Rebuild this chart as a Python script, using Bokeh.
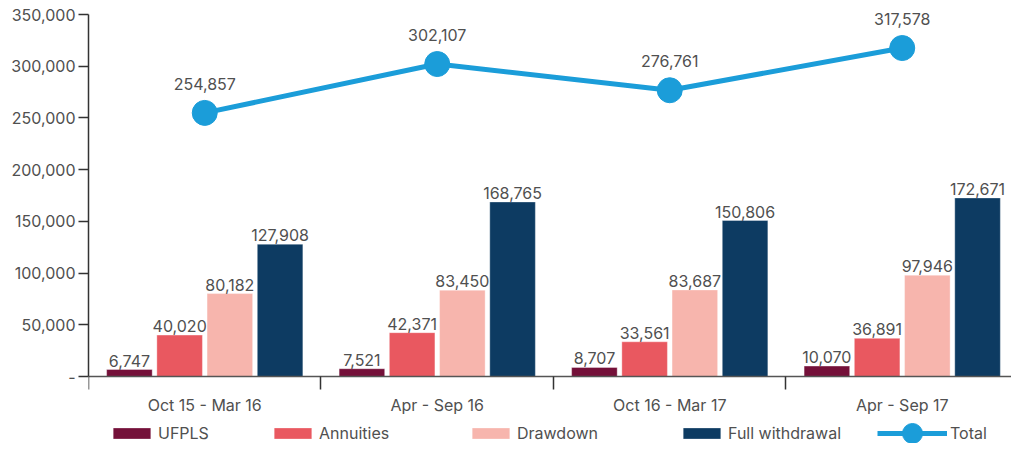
from bokeh.plotting import figure
from bokeh.models import (ColumnDataSource, FixedTicker, Legend, LegendItem, Range1d)
from bokeh.core.properties import value
from bokeh.embed import file_html
from bokeh.resources import INLINE

periods = ["Oct 15 - Mar 16", "Apr - Sep 16", "Oct 16 - Mar 17", "Apr - Sep 17"]
ufpls = [6747, 7521, 8707, 10070]
annuities = [40020, 42371, 33561, 36891]
drawdown = [80182, 83450, 83687, 97946]
full_withdrawal = [127908, 168765, 150806, 172671]
total = [254857, 302107, 276761, 317578]

series_names = ["UFPLS", "Annuities", "Drawdown", "Full withdrawal"]
series_values = [ufpls, annuities, drawdown, full_withdrawal]
series_colors = ["#741039", "#e95860", "#f7b5ad", "#0d3b62"]
total_color = "#1b9dd9"

y_ticks = [0, 50000, 100000, 150000, 200000, 250000, 300000, 350000]
y_tick_labels = ["-", "50,000", "100,000", "150,000", "200,000", "250,000", "300,000", "350,000"]

FONT = "Inter"
TXT = "#505050"

W, H = 1011, 443
TOP, ZERO_Y, LEFT = 14, 376, 88
y_max = 350000
px_per_unit = (ZERO_Y - TOP) / y_max
y_min = -(H - ZERO_Y) / px_per_unit
y_top = y_max + TOP / px_per_unit

p = figure(width=W, height=H, output_backend="svg", toolbar_location=None,
           x_range=Range1d(0, 3.97), y_range=Range1d(y_min, y_top),
           min_border_left=LEFT, min_border_right=0, min_border_top=0, min_border_bottom=0)
p.outline_line_color = None
p.xgrid.visible = False
p.ygrid.visible = False
p.background_fill_color = "white"
p.border_fill_color = "white"

centers = [i + 0.5 for i in range(len(periods))]
offsets = [-0.324, -0.108, 0.108, 0.324]
bar_w = 0.196

legend_items = []
for name, vals, col, off in zip(series_names, series_values, series_colors, offsets):
    src = ColumnDataSource(dict(x=[c + off for c in centers], top=vals,
                                lab=[f"{v:,}" for v in vals]))
    r = p.vbar(x="x", top="top", width=bar_w, bottom=0, source=src,
               fill_color=col, line_color="white", line_alpha=0.35, line_width=1)
    p.text(x="x", y="top", text="lab", source=src, text_align="center",
           text_baseline="bottom", y_offset=-3, text_font=value(FONT),
           text_font_size="16px", text_color=TXT)
    legend_items.append((name, r))

tsrc = ColumnDataSource(dict(x=centers, y=total, lab=[f"{v:,}" for v in total]))
lr = p.line(x="x", y="y", source=tsrc, line_color=total_color, line_width=5)
sr = p.scatter(x="x", y="y", source=tsrc, size=25, fill_color=total_color,
               line_color=total_color, marker="circle")
p.text(x="x", y="y", text="lab", source=tsrc, text_align="center",
       text_baseline="bottom", y_offset=-23, text_font=value(FONT),
       text_font_size="16px", text_color=TXT)

# y axis
ya = p.yaxis[0]
ya.ticker = FixedTicker(ticks=y_ticks)
ya.bounds = (0, y_max)
ya.major_label_overrides = {t: l for t, l in zip(y_ticks, y_tick_labels)}
ya.major_tick_out = 10
ya.major_tick_in = 0
ya.minor_tick_out = 0
ya.minor_tick_in = 0
ya.axis_line_color = "#333333"
ya.axis_line_width = 1.5
ya.major_tick_line_color = "#333333"
ya.major_tick_line_width = 1.5
ya.major_label_text_font = FONT
ya.major_label_text_font_size = "16px"
ya.major_label_text_color = TXT
ya.major_label_standoff = 3

# x axis at y = 0
xa = p.xaxis[0]
xa.fixed_location = 0
xa.ticker = FixedTicker(ticks=centers, minor_ticks=[0, 1, 2, 3, 4])
xa.major_label_overrides = {c: l for c, l in zip(centers, periods)}
xa.major_tick_out = 0
xa.major_tick_in = 0
xa.minor_tick_out = 13
xa.minor_tick_in = 0
xa.minor_tick_line_color = "#333333"
xa.minor_tick_line_width = 1.5
xa.axis_line_color = "#555555"
xa.axis_line_width = 1.5
xa.major_label_text_font = FONT
xa.major_label_text_font_size = "16px"
xa.major_label_text_color = TXT
xa.major_label_standoff = 5

# legends placed individually below the axis
leg_x = [20, 181, 379, 590, 789]
common = dict(orientation="horizontal", label_standoff=3, padding=0, margin=0,
              border_line_color=None, background_fill_alpha=0, label_text_font=FONT,
              label_text_font_size="16px", label_text_color=TXT, label_height=20)
for i, (name, r) in enumerate(legend_items):
    lg = Legend(items=[LegendItem(label=name, renderers=[r])], location=(leg_x[i], 0),
                glyph_width=47, glyph_height=14, **common)
    p.add_layout(lg, "center")
lg = Legend(items=[LegendItem(label="Total", renderers=[lr, sr])], location=(leg_x[4], -15),
            glyph_width=70, glyph_height=50, **common)
p.add_layout(lg, "center")

open("out.html", "w").write(file_html(p, INLINE))
